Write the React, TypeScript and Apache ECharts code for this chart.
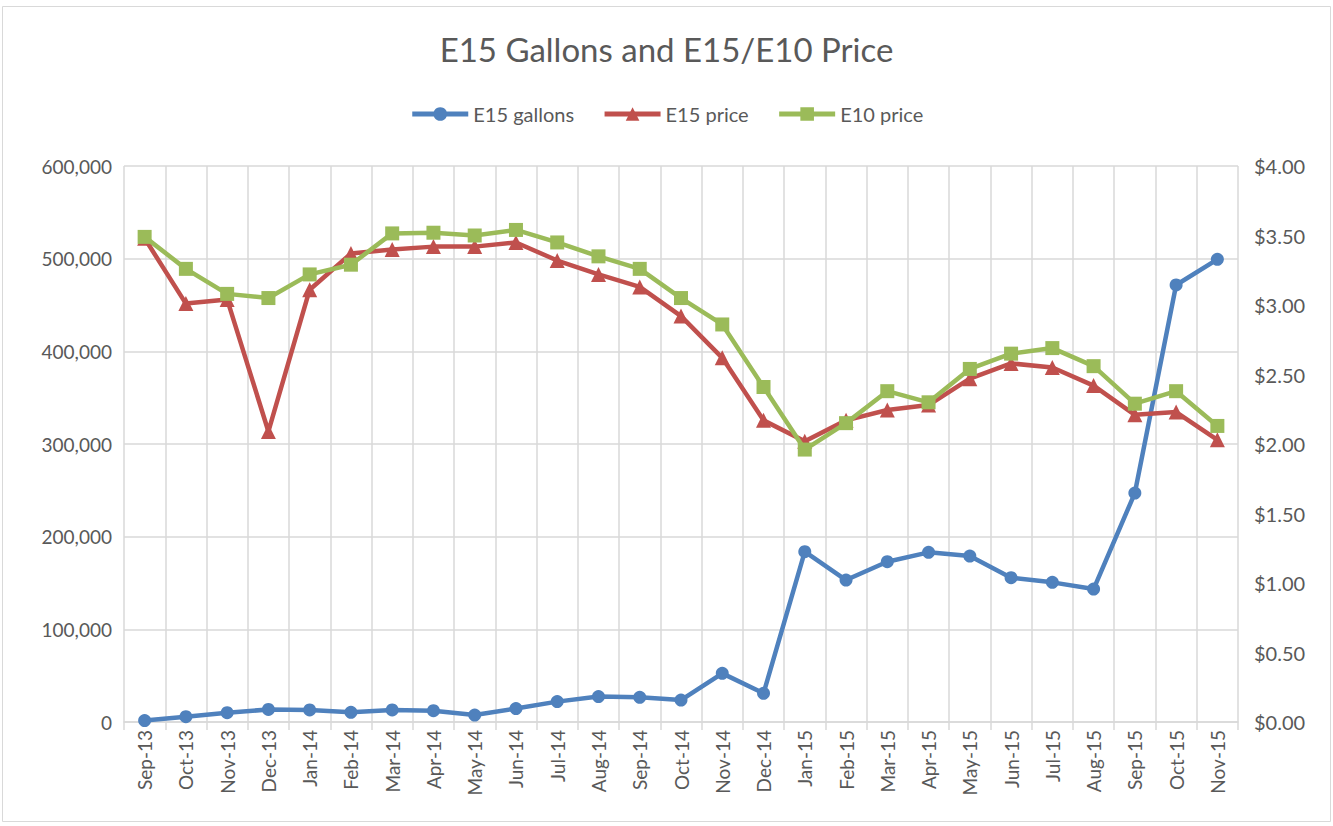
import React, { useEffect, useRef } from "react";
import * as echarts from "echarts";

const categories = ["Sep-13","Oct-13","Nov-13","Dec-13","Jan-14","Feb-14","Mar-14","Apr-14","May-14","Jun-14","Jul-14","Aug-14","Sep-14","Oct-14","Nov-14","Dec-14","Jan-15","Feb-15","Mar-15","Apr-15","May-15","Jun-15","Jul-15","Aug-15","Sep-15","Oct-15","Nov-15"];
const e15Gallons = [1500,5700,10000,13500,13000,10500,13000,12200,7500,14500,22000,27500,26600,23700,52500,31000,183800,153200,173000,183100,179100,155700,150700,143500,247100,471600,499300];
const e15Price = [3.48,3.01,3.04,2.09,3.11,3.37,3.40,3.42,3.42,3.45,3.32,3.22,3.13,2.92,2.62,2.17,2.02,2.17,2.245,2.28,2.47,2.58,2.55,2.42,2.21,2.23,2.03];
const e10Price = [3.49,3.26,3.08,3.05,3.22,3.29,3.515,3.52,3.50,3.54,3.45,3.35,3.26,3.05,2.86,2.41,1.96,2.15,2.38,2.30,2.54,2.65,2.69,2.56,2.29,2.38,2.13];

const FONT = "Lato, 'Open Sans', sans-serif";
const TXT = "#595959";
const BLUE = "#4f81bd";
const RED = "#c0504d";
const GREEN = "#9bbb59";

export default function App() {
  const ref = useRef<HTMLDivElement>(null);
  useEffect(() => {
    document.body.style.margin = "0";
    const chart = echarts.init(ref.current!, undefined, { renderer: "svg" });
    chart.setOption({
      animation: false,
      backgroundColor: "#ffffff",
      textStyle: { fontFamily: FONT },
      title: {
        text: "E15 Gallons and E15/E10 Price",
        left: "center",
        top: 27,
        textStyle: { fontFamily: FONT, fontSize: 33, fontWeight: "normal", color: TXT },
      },
      legend: {
        top: 99,
        left: "center",
        itemWidth: 56,
        itemHeight: 17,
        itemGap: 28,
        textStyle: { fontFamily: FONT, fontSize: 20, color: TXT },
        data: [
          { name: "E15 gallons", lineStyle: { width: 5, color: BLUE } },
          { name: "E15 price", lineStyle: { width: 5, color: RED } },
          { name: "E10 price", lineStyle: { width: 5, color: GREEN } },
        ],
      },
      graphic: [
        {
          type: "rect",
          shape: { x: 2.5, y: 6.5, width: 1328, height: 815 },
          style: { fill: "none", stroke: "#d9d9d9", lineWidth: 1 },
          silent: true,
        },
      ],
      grid: { left: 124, right: 95, top: 166, bottom: 104, containLabel: false },
      xAxis: {
        type: "category",
        data: categories,
        boundaryGap: true,
        axisLine: { show: true, lineStyle: { color: "#d9d9d9", width: 1.5 } },
        axisTick: { show: true, length: 8, alignWithLabel: false, lineStyle: { color: "#d9d9d9", width: 1.5 } },
        splitLine: { show: true, lineStyle: { color: "#d9d9d9", width: 1.5 } },
        axisLabel: { rotate: 90, interval: 0, fontFamily: FONT, fontSize: 19, color: TXT, margin: 8 },
      },
      yAxis: [
        {
          type: "value",
          min: 0,
          max: 600000,
          interval: 100000,
          axisLine: { show: false },
          axisTick: { show: false },
          splitLine: { show: true, lineStyle: { color: "#d9d9d9", width: 1.5 } },
          axisLabel: {
            fontFamily: FONT,
            fontSize: 19,
            color: TXT,
            margin: 12,
            formatter: (v: number) => v.toLocaleString("en-US"),
          },
        },
        {
          type: "value",
          min: 0,
          max: 4,
          interval: 0.5,
          position: "right",
          axisLine: { show: false },
          axisTick: { show: false },
          splitLine: { show: false },
          axisLabel: {
            fontFamily: FONT,
            fontSize: 20,
            color: TXT,
            margin: 16,
            formatter: (v: number) => "$" + v.toFixed(2),
          },
        },
      ],
      series: [
        {
          name: "E15 gallons",
          type: "line",
          yAxisIndex: 0,
          data: e15Gallons,
          symbol: "circle",
          symbolSize: 13,
          lineStyle: { color: BLUE, width: 4.5 },
          itemStyle: { color: BLUE },
          z: 3,
        },
        {
          name: "E15 price",
          type: "line",
          yAxisIndex: 1,
          data: e15Price,
          symbol: "triangle",
          symbolSize: 15,
          lineStyle: { color: RED, width: 4.5 },
          itemStyle: { color: RED },
          z: 4,
        },
        {
          name: "E10 price",
          type: "line",
          yAxisIndex: 1,
          data: e10Price,
          symbol: "rect",
          symbolSize: 14,
          lineStyle: { color: GREEN, width: 4.5 },
          itemStyle: { color: GREEN },
          z: 5,
        },
      ],
    });
    return () => chart.dispose();
  }, []);
  return <div ref={ref} style={{ width: 1333, height: 826 }} />;
}
